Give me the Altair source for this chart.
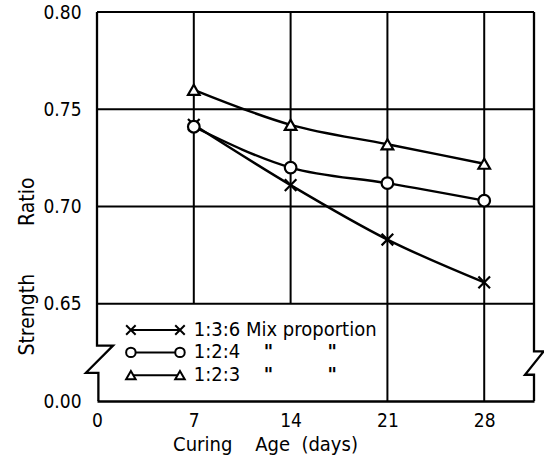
import altair as alt
import pandas as pd

FONT = "DejaVu Sans Condensed, Liberation Sans Narrow, DejaVu Sans, sans-serif"

# ---- data ----
days = [7, 14, 21, 28]
series_names = ["1:3:6", "1:2:4", "1:2:3"]
mix_136 = [0.742, 0.711, 0.683, 0.661]
mix_124 = [0.741, 0.720, 0.712, 0.703]
mix_123 = [0.760, 0.742, 0.732, 0.722]

x_ticks = [0, 7, 14, 21, 28]
y_ticks = [0.60, 0.65, 0.70, 0.75, 0.80]
y_tick_labels = ["0.00", "0.65", "0.70", "0.75", "0.80"]

x_domain = [0, 31.6]
y_domain = [0.60, 0.80]

# grid lines (vertical ones at 7 and 14 stop at the legend box)
vgrid_x = [7, 14, 21, 28]
vgrid_bottom = [0.65, 0.65, 0.60, 0.60]
hgrid_y = [0.65, 0.70, 0.75, 0.80]

# broken-axis frame (left and right borders with zig-zag break symbols)
left_frame_x = [0, 0, 1.16, -0.8, 0.1, 0.1]
left_frame_y = [0.80, 0.6285, 0.6285, 0.6145, 0.6145, 0.60]
right_frame_x = [31.6, 31.6, 32.3, 30.95, 31.6, 31.6]
right_frame_y = [0.80, 0.6255, 0.6255, 0.6135, 0.6135, 0.60]

# legend (drawn inside the plot, lower left)
legend_row_y = [0.6365, 0.6250, 0.6133]
legend_sym_x0 = 2.45
legend_sym_x1 = 6.0
legend_text_x = 7.0
legend_texts = ["1:3:6 Mix proportion", "1:2:4", "1:2:3"]
ditto_x = [12.4, 17.0]
ditto_rows = [1, 2]

X_PATH = "M-1,-1L1,1M-1,1L1,-1"
shape_range = [X_PATH, "circle", "triangle-up"]

# ---- tables ----
rows = []
for name, vals in zip(series_names, [mix_136, mix_124, mix_123]):
    for d, v in zip(days, vals):
        rows.append({"series": name, "x": d, "y": v})
df = pd.DataFrame(rows)

vgrid = pd.DataFrame({"x": vgrid_x, "y": vgrid_bottom, "y2": [y_domain[1]] * len(vgrid_x)})
hgrid = pd.DataFrame({"y": hgrid_y, "x": [x_domain[0]] * len(hgrid_y), "x2": [x_domain[1]] * len(hgrid_y)})

frame = pd.DataFrame(
    [{"side": "L", "i": i, "x": x, "y": y} for i, (x, y) in enumerate(zip(left_frame_x, left_frame_y))]
    + [{"side": "R", "i": i, "x": x, "y": y} for i, (x, y) in enumerate(zip(right_frame_x, right_frame_y))]
)

leg_seg = pd.DataFrame({"y": legend_row_y, "x": [legend_sym_x0] * 3, "x2": [legend_sym_x1] * 3})
leg_pts = pd.DataFrame(
    [{"series": s, "x": xx, "y": yy} for s, yy in zip(series_names, legend_row_y) for xx in (legend_sym_x0, legend_sym_x1)]
)
leg_txt = pd.DataFrame({"x": [legend_text_x] * 3, "y": legend_row_y, "t": legend_texts})
ditto = pd.DataFrame([{"x": dx, "y": legend_row_y[r], "t": '"'} for r in ditto_rows for dx in ditto_x])

# ---- scales / axes ----
xs = alt.Scale(domain=x_domain, nice=False, zero=False)
ys = alt.Scale(domain=y_domain, nice=False, zero=False)

label_expr = " : ".join(
    [f"abs(datum.value - {v}) < 0.001 ? '{lab}'" for v, lab in zip(y_ticks, y_tick_labels)]
) + " : ''"

x_axis = alt.Axis(
    values=x_ticks, format="d", ticks=False, grid=False, domain=True,
    domainColor="black", domainWidth=2.3, labelPadding=10, labelFontSize=19,
    labelColor="black", labelFont=FONT, labelFlush=False, labelOverlap=False,
    title="Curing\u00a0\u00a0\u00a0\u00a0Age\u00a0\u00a0(days)", titleFont=FONT, titleFontSize=20,
    titleFontWeight="normal", titleColor="black", titleX=168, titleY=43,
    titleBaseline="middle", titleAlign="center",
)
y_axis = alt.Axis(
    values=y_ticks, labelExpr=label_expr, ticks=False, grid=False, domain=False,
    labelPadding=16, labelFontSize=19, labelColor="black", labelFont=FONT,
    labelFlush=False, labelOverlap=False,
    title="Strength\u00a0\u00a0\u00a0\u00a0\u00a0\u00a0\u00a0\u00a0Ratio", titleFont=FONT, titleFontSize=21,
    titleFontWeight="normal", titleColor="black", titleX=-70, titleY=254,
    titleAngle=270, titleBaseline="middle", titleAlign="center",
)

X = alt.X("x:Q", scale=xs, axis=x_axis)
Y = alt.Y("y:Q", scale=ys, axis=y_axis)

lines = alt.Chart(df).mark_line(color="black", strokeWidth=2.4, interpolate="monotone").encode(
    x=X, y=Y, detail="series:N",
)
shape_enc = alt.Shape("series:N", scale=alt.Scale(domain=series_names, range=shape_range), legend=None)
pts = alt.Chart(df).mark_point(filled=False, fill="white", fillOpacity=1, stroke="black", strokeWidth=2.2, size=135, opacity=1).encode(
    x=X, y=Y, shape=shape_enc
)

vg = alt.Chart(vgrid).mark_rule(color="black", strokeWidth=2).encode(x=X, y=Y, y2="y2:Q")
hg = alt.Chart(hgrid).mark_rule(color="black", strokeWidth=2).encode(y=Y, x=X, x2="x2:Q")
fr = alt.Chart(frame).mark_line(color="black", strokeWidth=2.3).encode(
    x=X, y=Y, detail="side:N", order="i:Q"
)

lseg = alt.Chart(leg_seg).mark_rule(color="black", strokeWidth=2).encode(y=Y, x=X, x2="x2:Q")
lpts = alt.Chart(leg_pts).mark_point(filled=False, fill="white", fillOpacity=1, stroke="black", strokeWidth=2, size=90, opacity=1).encode(
    x=X, y=Y, shape=shape_enc
)
ltxt = alt.Chart(leg_txt).mark_text(align="left", baseline="middle", font=FONT, fontSize=20, color="black").encode(
    x=X, y=Y, text="t:N"
)
ldit = alt.Chart(ditto).mark_text(align="center", baseline="middle", font=FONT, fontSize=20, fontWeight="bold", color="black").encode(
    x=X, y=Y, text="t:N"
)

chart = alt.layer(vg, hg, fr, lines, pts, lseg, lpts, ltxt, ldit).properties(
    width=437, height=389, autosize="none",
    padding={"left": 97, "top": 12, "right": 10, "bottom": 60},
    background="white",
).configure_view(stroke=None)

chart.save("out.html", embed_options={"renderer": "svg", "actions": False})
